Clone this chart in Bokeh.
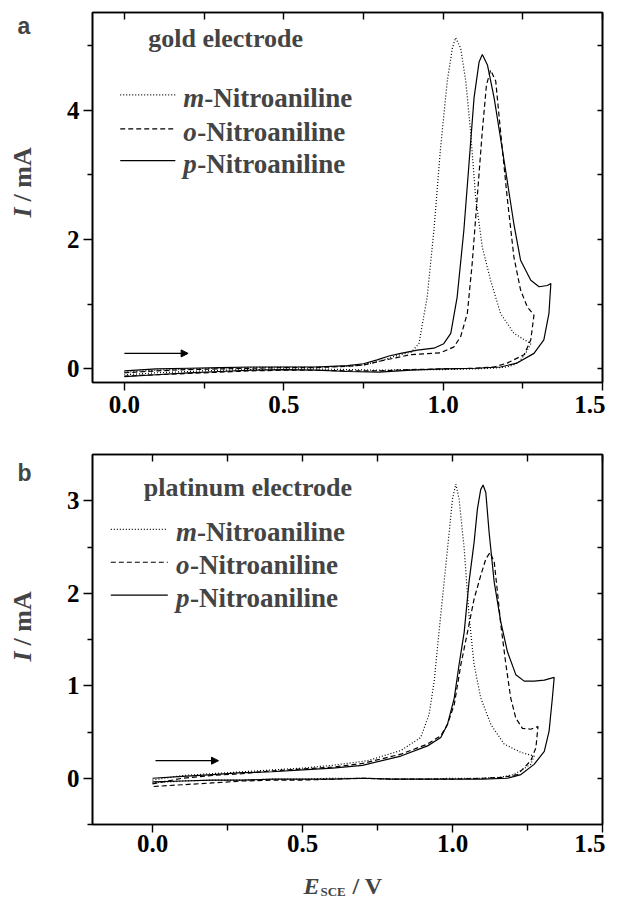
import math
from bokeh.plotting import figure
from bokeh.models import (LinearAxis, FixedTicker, Label, Arrow, NormalHead,
                          CustomJSTickFormatter, Range1d, NumeralTickFormatter)
from bokeh.layouts import column, row
from bokeh.embed import file_html
from bokeh.resources import INLINE

# ---------------- data: panel a (gold electrode) ----------------
a_m_x = [0.0, 0.1, 0.2, 0.3, 0.4, 0.5, 0.6, 0.7, 0.75, 0.8, 0.85, 0.9, 0.924, 0.95, 0.971, 0.992,
         1.013, 1.029, 1.039, 1.055, 1.071, 1.086, 1.102, 1.123, 1.149, 1.18, 1.222, 1.275,
         1.26, 1.24, 1.22, 1.2, 1.15, 1.1, 1.0, 0.9, 0.8, 0.7, 0.6, 0.5, 0.4, 0.3, 0.2, 0.1, 0.0]
a_m_y = [-0.05, -0.02, 0.0, 0.01, 0.02, 0.03, 0.03, 0.04, 0.06, 0.12, 0.2, 0.26, 0.39, 1.11, 2.14, 3.42,
         4.45, 4.96, 5.12, 4.96, 4.45, 3.68, 2.65, 1.88, 1.37, 0.86, 0.55, 0.39,
         0.25, 0.12, 0.06, 0.03, 0.01, 0.0, -0.01, -0.01, -0.02, -0.01, 0.0, 0.0, -0.01, -0.02, -0.04, -0.06, -0.09]

a_o_x = [0.0, 0.1, 0.2, 0.3, 0.4, 0.5, 0.6, 0.7, 0.75, 0.82, 0.898, 0.992, 1.034, 1.055, 1.076, 1.091,
         1.107, 1.123, 1.136, 1.149, 1.165, 1.18, 1.201, 1.222, 1.243, 1.264, 1.285,
         1.275, 1.254, 1.201, 1.16, 1.1, 1.0, 0.9, 0.8, 0.7, 0.6, 0.5, 0.4, 0.3, 0.2, 0.1, 0.0]
a_o_y = [-0.06, -0.03, -0.01, 0.0, 0.01, 0.02, 0.02, 0.04, 0.06, 0.14, 0.22, 0.25, 0.34, 0.5, 0.86, 1.62,
         2.65, 3.68, 4.39, 4.62, 4.45, 3.68, 2.65, 1.73, 1.22, 0.96, 0.83,
         0.45, 0.22, 0.09, 0.03, 0.01, 0.0, -0.01, -0.03, -0.03, -0.02, -0.02, -0.03, -0.05, -0.07, -0.09, -0.11]

a_p_x = [0.0, 0.1, 0.2, 0.3, 0.4, 0.5, 0.6, 0.7, 0.75, 0.793, 0.83, 0.867, 0.919, 0.971, 1.002, 1.024,
         1.044, 1.065, 1.081, 1.097, 1.113, 1.123, 1.139, 1.16, 1.18, 1.201, 1.222, 1.243, 1.275,
         1.301, 1.327, 1.338,
         1.332, 1.316, 1.285, 1.232, 1.18, 1.1, 1.0, 0.9, 0.8, 0.7, 0.6, 0.5, 0.4, 0.3, 0.2, 0.1, 0.0]
a_p_y = [-0.03, 0.0, 0.01, 0.02, 0.03, 0.03, 0.03, 0.05, 0.08, 0.14, 0.2, 0.24, 0.29, 0.32, 0.39, 0.55,
         1.11, 2.14, 3.16, 4.19, 4.75, 4.86, 4.70, 4.19, 3.57, 2.91, 2.24, 1.68, 1.37,
         1.27, 1.29, 1.32,
         0.86, 0.45, 0.24, 0.09, 0.03, 0.01, 0.0, -0.02, -0.05, -0.04, -0.02, -0.01, -0.02, -0.04, -0.06, -0.09, -0.12]

# ---------------- data: panel b (platinum electrode) ----------------
b_m_x = [0.0, 0.1, 0.2, 0.3, 0.4, 0.5, 0.6, 0.717, 0.828, 0.894, 0.922, 0.939, 0.955, 0.972, 0.989, 1.0,
         1.011, 1.022, 1.039, 1.055, 1.072, 1.094, 1.128, 1.172, 1.228, 1.272,
         1.261, 1.205, 1.16, 1.1, 1.0, 0.9, 0.8, 0.7, 0.6, 0.5, 0.4, 0.3, 0.2, 0.1, 0.0]
b_m_y = [-0.02, 0.03, 0.05, 0.07, 0.09, 0.11, 0.14, 0.19, 0.30, 0.44, 0.69, 1.05, 1.58, 2.12, 2.66, 3.02,
         3.18, 3.02, 2.48, 1.76, 1.23, 0.87, 0.58, 0.37, 0.28, 0.24,
         0.15, 0.04, 0.01, 0.0, 0.0, -0.01, -0.01, 0.0, 0.0, -0.01, -0.01, -0.02, -0.02, -0.03, -0.05]

b_o_x = [0.0, 0.1, 0.2, 0.3, 0.4, 0.5, 0.6, 0.7, 0.828, 0.917, 0.961, 0.983, 1.006, 1.028, 1.05, 1.072,
         1.094, 1.111, 1.125, 1.139, 1.15, 1.161, 1.178, 1.194, 1.211, 1.233, 1.261, 1.285,
         1.278, 1.261, 1.217, 1.17, 1.1, 1.0, 0.9, 0.8, 0.7, 0.6, 0.5, 0.4, 0.3, 0.2, 0.1, 0.0]
b_o_y = [-0.06, 0.0, 0.03, 0.05, 0.08, 0.10, 0.12, 0.16, 0.26, 0.37, 0.46, 0.58, 0.80, 1.23, 1.58, 1.94,
         2.19, 2.37, 2.44, 2.34, 2.01, 1.66, 1.23, 0.87, 0.65, 0.54, 0.53, 0.56,
         0.33, 0.19, 0.04, 0.01, 0.0, -0.01, -0.01, -0.01, 0.0, -0.01, -0.02, -0.02, -0.03, -0.05, -0.07, -0.09]

b_p_x = [0.0, 0.1, 0.2, 0.3, 0.4, 0.5, 0.6, 0.7, 0.828, 0.917, 0.961, 0.983, 1.006, 1.022, 1.039, 1.055,
         1.072, 1.083, 1.094, 1.102, 1.111, 1.122, 1.139, 1.161, 1.183, 1.211, 1.239, 1.272, 1.306, 1.339,
         1.333, 1.322, 1.306, 1.272, 1.228, 1.183, 1.1, 1.0, 0.9, 0.8, 0.7, 0.6, 0.5, 0.4, 0.3, 0.2, 0.1, 0.0]
b_p_y = [0.0, 0.02, 0.04, 0.06, 0.07, 0.09, 0.11, 0.14, 0.24, 0.35, 0.44, 0.58, 0.87, 1.23, 1.58, 2.12,
         2.55, 2.91, 3.12, 3.17, 3.09, 2.66, 2.12, 1.69, 1.37, 1.12, 1.05, 1.05, 1.06, 1.09,
         0.87, 0.51, 0.29, 0.15, 0.04, 0.0, -0.01, -0.01, -0.01, -0.01, 0.0, -0.01, -0.01, -0.01, -0.02, -0.02, -0.03, -0.04]

# ---------------- ticks & labels ----------------
x_major = [0.0, 0.5, 1.0, 1.5]
x_minor = [0.25, 0.75, 1.25]
x_all = [0.0, 0.25, 0.5, 0.75, 1.0, 1.25, 1.5]
a_y_major = [0, 2, 4]
a_y_minor = [1, 3, 5]
a_y_all = [0, 1, 2, 3, 4, 5]
b_y_major = [0, 1, 2, 3]
b_y_minor = [-0.5, 0.5, 1.5, 2.5]
b_y_all = [0, 0.5, 1, 1.5, 2, 2.5, 3]

series_names = [("m", "-Nitroaniline"), ("o", "-Nitroaniline"), ("p", "-Nitroaniline")]
series_dash = ["1 2", "5 3", "solid"]

SERIF = "Liberation Serif"
FS_TICK = "25px"
FS_LEG = "27px"
FS_TITLE = "26px"
STRIP_W = 52
FRAME_W = 510
FRAME_H = 370
TOTAL_W = STRIP_W + 40 + FRAME_W + 3


def make_panel(xr, yr, yticks, yminor, yall, border_top, border_bottom, xstand):
    p = figure(x_range=Range1d(*xr), y_range=Range1d(*yr),
               frame_width=FRAME_W, frame_height=FRAME_H,
               min_border_left=92 - STRIP_W, min_border_right=3,
               min_border_top=border_top, min_border_bottom=border_bottom,
               output_backend="svg", toolbar_location=None, title=None,
               background_fill_color="white", border_fill_color="white")
    p.grid.visible = False
    p.outline_line_color = "black"
    p.outline_line_width = 1.6

    xa = p.xaxis[0]
    xa.ticker = FixedTicker(ticks=x_major, minor_ticks=x_minor)
    xa.formatter = NumeralTickFormatter(format="0.0")
    ya = p.yaxis[0]
    ya.ticker = FixedTicker(ticks=yticks, minor_ticks=yminor)
    for ax in (xa, ya):
        ax.axis_line_width = 1.6
        ax.major_tick_line_width = 1.4
        ax.minor_tick_line_width = 1.4
        ax.major_tick_in = 0
        ax.minor_tick_in = 0
        ax.major_label_text_font = SERIF
        ax.major_label_text_font_style = "bold"
        ax.major_label_text_font_size = FS_TICK
        ax.major_label_text_color = "black"
    xa.major_tick_out = 8
    xa.minor_tick_out = 6
    xa.major_label_standoff = xstand
    ya.major_tick_out = 9
    ya.minor_tick_out = 5
    ya.major_label_standoff = 4

    top = LinearAxis(ticker=FixedTicker(ticks=x_all), major_tick_in=7, major_tick_out=0,
                     minor_tick_in=0, minor_tick_out=0, major_tick_line_width=1.4,
                     axis_line_width=1.6, major_label_standoff=0,
                     formatter=CustomJSTickFormatter(code="return ''"),
                     major_label_text_font_size="1px")
    right = LinearAxis(ticker=FixedTicker(ticks=yall), major_tick_in=5, major_tick_out=0,
                       minor_tick_in=0, minor_tick_out=0, major_tick_line_width=1.4,
                       axis_line_width=1.6, major_label_standoff=0,
                       formatter=CustomJSTickFormatter(code="return ''"),
                       major_label_text_font_size="1px")
    p.add_layout(top, "above")
    p.add_layout(right, "right")
    return p


def make_strip(w, h, top, bottom):
    # data coordinates: x = pixels from the left, y = minus pixels from the top
    s = figure(frame_width=w, frame_height=h - top - bottom,
               x_range=Range1d(0, w), y_range=Range1d(-(h - bottom), -top),
               x_axis_type=None, y_axis_type=None, title=None,
               min_border_left=0, min_border_right=0,
               min_border_top=top, min_border_bottom=bottom,
               output_backend="svg", toolbar_location=None,
               background_fill_color="white", border_fill_color="white")
    s.grid.visible = False
    s.outline_line_color = None
    return s


def add_curves(p, xs_list, ys_list):
    for xs, ys, dash in zip(xs_list, ys_list, series_dash):
        p.line(xs, ys, line_color="black", line_width=1.2, line_dash=dash)


def add_legend(p, leg_x, row_y, text_dy, text_x, title, title_xy, italic_w):
    p.add_layout(Label(x=title_xy[0], y=title_xy[1], text=title, text_font=SERIF,
                       text_font_style="bold", text_font_size=FS_TITLE, text_baseline="middle"))
    for i, ((pre, rest), dash) in enumerate(zip(series_names, series_dash)):
        ry = row_y[i]
        p.line(list(leg_x), [ry, ry], line_color="black", line_width=1.2, line_dash=dash)
        ty = ry - text_dy
        p.add_layout(Label(x=text_x, y=ty, text=pre, text_font=SERIF, text_font_style="bold italic",
                           text_font_size=FS_LEG, text_baseline="middle"))
        p.add_layout(Label(x=text_x, y=ty, x_offset=italic_w[i], text=rest, text_font=SERIF,
                           text_font_style="bold", text_font_size=FS_LEG, text_baseline="middle"))


def add_side_texts(s, letter, letter_y, ylab_i, ylab_rest):
    s.add_layout(Label(x=17, y=-letter_y, text=letter, text_font="Liberation Sans",
                       text_font_style="bold", text_font_size="23px", text_baseline="middle"))
    s.add_layout(Label(x=22, y=-ylab_i, text="I", angle=math.pi / 2, text_font=SERIF,
                       text_font_style="bold italic", text_font_size=FS_TITLE,
                       text_align="left", text_baseline="middle"))
    s.add_layout(Label(x=22, y=-ylab_rest, text="/ mA", angle=math.pi / 2, text_font=SERIF,
                       text_font_style="bold", text_font_size=FS_TITLE,
                       text_align="left", text_baseline="middle"))


italic_w = [21, 14, 14]

# ---------------- panel a ----------------
A_TOP, A_BOT = 12, 48
pa = make_panel((-0.1, 1.5), (-0.21, 5.51), a_y_major, a_y_minor, a_y_all, A_TOP, A_BOT, 5)
add_curves(pa, [a_m_x, a_o_x, a_p_x], [a_m_y, a_o_y, a_p_y])
add_legend(pa, (-0.013, 0.16), [4.235, 3.71, 3.22], 0.045, 0.185, "gold electrode", (0.075, 5.11), italic_w)
pa.add_layout(Arrow(end=NormalHead(size=7, fill_color="black", line_color="black"),
                    x_start=0.0, y_start=0.24, x_end=0.2, y_end=0.24, line_width=1.2))
HA = A_TOP + FRAME_H + A_BOT
sa = make_strip(STRIP_W, HA, A_TOP, A_BOT)
add_side_texts(sa, "a", 25, 217, 201)

# ---------------- panel b ----------------
B_TOP, B_BOT = 24, 45
pb = make_panel((-0.2, 1.5), (-0.5, 3.5), b_y_major, b_y_minor, b_y_all, B_TOP, B_BOT, 2)
add_curves(pb, [b_m_x, b_o_x, b_p_x], [b_m_y, b_o_y, b_p_y])
add_legend(pb, (-0.139, 0.051), [2.69, 2.335, 1.98], 0.032, 0.078, "platinum electrode", (-0.029, 3.14), italic_w)
pb.add_layout(Arrow(end=NormalHead(size=7, fill_color="black", line_color="black"),
                    x_start=0.01, y_start=0.19, x_end=0.22, y_end=0.19, line_width=1.2))
HB = B_TOP + FRAME_H + B_BOT
sb = make_strip(STRIP_W, HB, B_TOP, B_BOT)
add_side_texts(sb, "b", 42, 231, 215)

# ---------------- x-axis title strip ----------------
HX = 34
sx = make_strip(TOTAL_W, HX, 0, 0)
sx.add_layout(Label(x=303, y=-16, text="E", text_font=SERIF, text_font_style="bold italic",
                    text_font_size="24px", text_baseline="middle"))
sx.add_layout(Label(x=320, y=-22, text="SCE", text_font=SERIF, text_font_style="bold",
                    text_font_size="13px", text_baseline="middle"))
sx.add_layout(Label(x=352, y=-16, text="/ V", text_font=SERIF, text_font_style="bold",
                    text_font_size="24px", text_baseline="middle"))

layout = column(row(sa, pa), row(sb, pb), sx)
open("out.html", "w").write(file_html(layout, INLINE))
